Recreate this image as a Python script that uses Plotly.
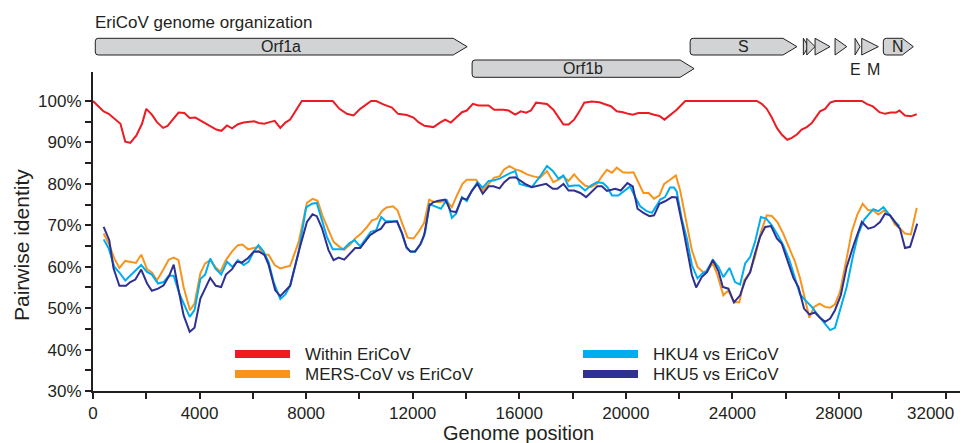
import plotly.graph_objects as go

# ---------------- data ----------------
within_x = [0, 400, 590, 1030, 1210, 1400, 1630, 1840, 2000, 2210,
            2400, 2630, 2800, 3030, 3210, 3430, 3630, 3840, 4030, 4250,
            4430, 4630, 4820, 5030, 5220, 5440, 5650, 5900, 6050, 6220,
            6430, 6630, 6820, 7030, 7220, 7400, 7620, 7840, 8400, 9000,
            9250, 9530, 9780, 10030, 10440, 10630, 10900, 11220, 11450, 11780,
            12030, 12220, 12440, 12780, 13010, 13220, 13430, 13660, 13850, 14030,
            14260, 14470, 14850, 15060, 15410, 15600, 15850, 16060, 16260, 16440,
            16630, 17040, 17280, 17470, 17660, 17850, 18060, 18260, 18440, 18720,
            19010, 19220, 19440, 19660, 19890, 20100, 20260, 20470, 20850, 21060,
            21260, 21450, 21660, 21910, 22230, 24040, 24920, 25100, 25290, 25480,
            25670, 25850, 26060, 26230, 26420, 26600, 26790, 26980, 27140, 27290,
            27480, 27670, 27850, 28860, 29040, 29270, 29520, 29730, 29940, 30140,
            30270, 30480, 30700, 30920]
within_y = [100, 97.5, 96.9, 94.5, 90.2, 89.9, 91.7, 94.5, 98.1, 96.7,
            94.9, 93.5, 94.0, 95.9, 97.2, 97.1, 95.9, 96.0, 95.3, 94.5,
            94.0, 93.1, 92.8, 94.1, 93.4, 94.4, 94.8, 95.1, 95.1, 94.7,
            94.5, 94.9, 95.2, 93.5, 94.8, 95.5, 97.7, 100, 100, 100,
            98.1, 96.9, 96.5, 98.1, 100, 100, 99.2, 98.4, 96.9, 96.6,
            96.0, 94.9, 94.0, 93.7, 94.7, 95.5, 94.8, 96.1, 97.3, 97.7,
            99.3, 98.9, 98.9, 97.9, 97.9, 97.7, 96.7, 97.5, 97.2, 97.7,
            99.6, 99.3, 97.9, 96.1, 94.3, 94.3, 95.5, 97.5, 99.6, 99.9,
            99.7, 99.2, 98.75, 97.5, 97.3, 96.9, 96.7, 97.1, 97.1, 96.7,
            96.4, 95.5, 96.5, 97.9, 100, 100, 100, 99.3, 98.1, 96.0,
            93.5, 91.9, 90.65, 91.1, 91.9, 93.1, 93.7, 94.65, 96.1, 97.5,
            98.1, 99.6, 100, 100, 99.3, 98.7, 97.3, 96.9, 97.2, 97.2,
            97.7, 96.5, 96.3, 96.8]

mers_x = [400, 590, 800, 990, 1210, 1400, 1610, 1810, 2030, 2210,
          2400, 2630, 2840, 3030, 3210, 3400, 3640, 3810, 4030, 4210,
          4400, 4590, 4780, 4990, 5220, 5440, 5610, 5820, 6030, 6210,
          6400, 6590, 6820, 7030, 7220, 7400, 7720, 8030, 8240, 8430,
          8630, 8840, 9030, 9250, 9430, 9650, 9840, 10060, 10260, 10470,
          10660, 10840, 11020, 11260, 11430, 11620, 11810, 12030, 12220, 12430,
          12620, 12810, 13030, 13260, 13470, 13660, 13870, 14030, 14380, 14630,
          14850, 15060, 15260, 15430, 15630, 15850, 16060, 16290, 16530, 16780,
          17040, 17280, 17470, 17660, 17850, 18060, 18260, 18470, 18690, 18910,
          19100, 19290, 19480, 19660, 19890, 20100, 20290, 20470, 20660, 20850,
          21060, 21260, 21440, 21660, 21880, 22040, 22230, 22480, 22690, 22890,
          23040, 23270, 23440, 23660, 23850, 24060, 24260, 24440, 24640, 24850,
          25070, 25290, 25480, 25690, 25910, 26140, 26350, 26540, 26730, 26890,
          27070, 27270, 27480, 27670, 27850, 28040, 28290, 28480, 28690, 28890,
          29100, 29290, 29480, 29700, 29920, 30100, 30290, 30480, 30700, 30920]
mers_y = [68.0, 65.6, 62.0, 59.7, 61.4, 61.2, 60.9, 62.9, 59.4, 58.6,
          56.7, 59.2, 61.7, 62.2, 61.6, 55.1, 49.5, 51.1, 58.4, 60.8,
          61.6, 59.95, 58.75, 61.6, 63.7, 65.2, 65.35, 64.2, 64.5, 64.8,
          62.9, 62.9, 60.4, 59.6, 59.95, 60.2, 66.0, 75.4, 76.4, 75.9,
          72.0, 68.8, 66.0, 64.8, 64.1, 65.35, 66.8, 68.0, 69.4, 71.2,
          71.6, 73.4, 74.3, 74.6, 73.6, 70.2, 67.0, 66.8, 68.4, 70.6,
          76.2, 75.6, 75.6, 75.9, 74.4, 77.2, 80.0, 81.0, 81.0, 78.4,
          80.0, 81.5, 81.8, 83.5, 84.3, 83.5, 83.1, 82.3, 81.8, 81.5,
          83.1, 80.4, 81.0, 81.8, 80.7, 82.3, 80.8, 79.6, 79.2, 80.0,
          81.8, 83.4, 82.7, 83.9, 82.8, 82.7, 82.8, 80.4, 77.8, 77.8,
          76.4, 77.2, 80.0, 81.0, 82.05, 78.4, 72.4, 64.0, 59.95, 58.75,
          58.9, 60.8, 58.0, 53.1, 54.3, 51.4, 51.4, 56.7, 58.4, 62.4,
          68.4, 72.4, 72.25, 70.8, 68.0, 64.4, 61.2, 57.2, 52.3, 47.7,
          50.3, 51.1, 50.3, 50.1, 50.9, 53.9, 62.0, 68.4, 72.6, 75.2,
          73.6, 73.6, 72.6, 73.6, 72.4, 70.2, 69.2, 68.0, 67.8, 74.2]

hku4_x = [400, 590, 800, 990, 1210, 1400, 1610, 1810, 2030, 2210,
          2440, 2650, 2840, 3030, 3240, 3630, 3810, 4030, 4210, 4400,
          4590, 4810, 5030, 5240, 5440, 5650, 5840, 6030, 6210, 6400,
          6590, 6780, 7030, 7220, 7400, 7720, 8000, 8220, 8400, 8590,
          8780, 9000, 9220, 9400, 9630, 9820, 10030, 10260, 10430, 10630,
          10820, 10990, 11410, 11600, 11780, 11930, 12090, 12310, 12470, 12630,
          12840, 13060, 13280, 13470, 13630, 13850, 14030, 14220, 14430, 14630,
          14850, 15030, 15260, 15470, 15660, 15850, 16010, 16220, 16470, 16760,
          17040, 17260, 17470, 17660, 17850, 18060, 18250, 18470, 18690, 18910,
          19140, 19310, 19480, 19720, 19940, 20160, 20350, 20540, 20790, 20980,
          21160, 21290, 21470, 21660, 21810, 21910, 22100, 22290, 22480, 22690,
          22880, 23010, 23270, 23480, 23660, 23890, 24100, 24290, 24480, 24670,
          24850, 25070, 25270, 25480, 25690, 25910, 26140, 26350, 26540, 26770,
          26980, 27190, 27390, 27670, 27850, 28040, 28290, 28520, 28720, 28950,
          29100, 29290, 29480, 29670, 29890, 30100, 30270]
hku4_y = [66.6, 64.4, 60.0, 58.6, 56.7, 57.95, 59.2, 60.4, 58.75, 58.1,
          55.95, 56.3, 57.8, 57.8, 53.5, 47.9, 49.5, 57.0, 58.1, 62.0,
          59.6, 58.1, 61.2, 59.95, 61.6, 60.4, 61.2, 63.6, 65.2, 63.7,
          61.2, 56.3, 52.2, 53.3, 55.4, 63.6, 74.3, 75.2, 75.4, 71.6,
          67.2, 64.2, 64.2, 64.2, 65.7, 66.4, 64.9, 66.8, 68.4, 68.8,
          72.0, 71.0, 71.0, 68.0, 64.4, 63.6, 63.6, 65.6, 68.4, 75.1,
          74.6, 74.0, 76.2, 71.8, 72.8, 76.8, 75.8, 78.3, 80.4, 79.1,
          80.7, 80.8, 81.25, 82.0, 82.6, 83.1, 80.0, 79.6, 79.2, 81.6,
          84.3, 83.1, 81.25, 82.05, 79.4, 79.6, 79.6, 78.4, 79.6, 80.4,
          80.2, 79.2, 77.2, 77.2, 78.4, 79.4, 76.8, 74.6, 73.4, 73.0,
          74.8, 76.2, 76.8, 79.1, 79.1, 78.2, 71.6, 66.8, 60.4, 57.2,
          58.4, 58.8, 61.6, 59.95, 57.5, 59.7, 56.3, 55.7, 60.8, 62.4,
          66.0, 72.0, 71.6, 70.0, 67.8, 65.2, 61.6, 57.5, 53.3, 51.7,
          50.3, 48.5, 46.9, 44.7, 45.25, 49.5, 55.1, 62.4, 67.8, 71.4,
          72.4, 73.9, 73.4, 74.4, 72.6, 70.8, 69.8]

hku5_x = [400, 610, 770, 990, 1240, 1400, 1590, 1810, 2030, 2210,
          2440, 2650, 2860, 3030, 3190, 3400, 3630, 3810, 4030, 4210,
          4400, 4610, 4810, 4990, 5220, 5400, 5590, 5820, 6030, 6210,
          6430, 6590, 6840, 7030, 7220, 7400, 7720, 8030, 8240, 8400,
          8590, 8840, 9030, 9220, 9430, 9630, 9840, 10030, 10220, 10400,
          10630, 10810, 10970, 11160, 11410, 11600, 11760, 11910, 12090, 12280,
          12430, 12630, 12780, 12970, 13220, 13430, 13630, 13850, 14030, 14220,
          14430, 14630, 14850, 15030, 15260, 15440, 15640, 15850, 16030, 16220,
          16470, 16720, 17010, 17260, 17430, 17660, 17850, 18060, 18290, 18510,
          18720, 18930, 19100, 19290, 19600, 19810, 20060, 20260, 20440, 20660,
          20890, 21060, 21260, 21470, 21730, 21910, 22140, 22310, 22480, 22640,
          22850, 23050, 23265, 23480, 23640, 23850, 24060, 24290, 24480, 24670,
          24850, 25040, 25230, 25450, 25670, 25850, 26060, 26290, 26480, 26690,
          26890, 27100, 27290, 27480, 27670, 27850, 28070, 28290, 28570, 28860,
          29100, 29320, 29540, 29730, 29920, 30100, 30290, 30480, 30670, 30940]
hku5_y = [69.6, 66.4, 59.6, 55.4, 55.4, 56.3, 56.9, 59.3, 55.95, 54.2,
          54.7, 55.5, 57.8, 60.5, 55.1, 48.3, 44.3, 45.25, 52.3, 54.6,
          57.3, 55.4, 55.1, 58.1, 59.4, 61.2, 61.0, 62.1, 63.6, 63.7,
          62.9, 60.5, 54.3, 52.9, 54.1, 55.4, 63.6, 70.8, 72.65, 72.2,
          69.4, 64.0, 61.6, 62.2, 61.7, 63.2, 64.5, 64.5, 66.0, 67.6,
          68.6, 69.2, 70.65, 70.8, 70.96, 68.1, 64.8, 63.7, 63.7, 65.35,
          67.6, 74.8, 75.6, 75.9, 76.2, 73.4, 73.2, 76.6, 76.2, 78.3,
          80.0, 77.6, 79.4, 79.4, 78.9, 80.4, 81.5, 81.6, 80.8, 80.0,
          79.2, 79.6, 80.0, 78.8, 78.8, 80.0, 78.4, 78.4, 77.8, 76.8,
          78.0, 79.4, 79.4, 78.3, 78.8, 78.4, 80.2, 79.4, 74.0, 73.0,
          72.2, 72.4, 75.2, 75.8, 76.8, 76.7, 69.6, 64.0, 58.0, 55.0,
          57.5, 58.7, 61.65, 58.9, 55.1, 54.7, 51.4, 53.1, 56.7, 58.7,
          63.2, 67.2, 69.6, 69.8, 66.8, 65.6, 61.6, 57.3, 55.1, 49.9,
          48.5, 48.96, 47.7, 46.7, 47.5, 49.5, 53.1, 59.95, 65.6, 70.8,
          69.2, 69.6, 70.8, 72.8, 72.4, 70.8, 69.2, 64.5, 64.8, 70.4]

series_names = ["Within EriCoV", "MERS-CoV vs EriCoV", "HKU4 vs EriCoV", "HKU5 vs EriCoV"]

# genome organization (genome coordinates)
gene_names = ["Orf1a", "Orf1b", "S", "N"]
gene_start = [86, 14230, 22415, 29666]
gene_end = [14045, 22563, 26425, 30792]
gene_row = [0, 1, 0, 0]
small_orf_start = [26664, 26791, 27103, 27854, 28605, 28855]
small_orf_end = [26852, 27103, 27666, 28293, 28793, 29479]
small_orf_labels = ["E", "M"]
small_orf_label_pos = [28604, 29280]

y_tick_vals = [30, 40, 50, 60, 70, 80, 90, 100]
x_tick_vals = [0, 4000, 8000, 12000, 16000, 20000, 24000, 28000, 32000]

# ---------------- styling ----------------
W, H = 970, 443
# plot area in screen pixels
P_L, P_R, P_T, P_B = 93, 960, 72, 391
ML, MR, MT, MB = P_L, W - P_R, P_T, H - P_B
PW, PH = P_R - P_L, P_B - P_T
XMAX = 32544
FONT = "Liberation Sans, Arial, Helvetica, sans-serif"
TXT = "#231f20"
colors = ["#ed1c24", "#f7941d", "#00aeef", "#2e3192"]


def px_x(px):
    return (px - P_L) / PW


def px_y(py):
    return (P_B - py) / PH


fig = go.Figure()
for name, xs, ys, c in zip(series_names,
                           [within_x, mers_x, hku4_x, hku5_x],
                           [within_y, mers_y, hku4_y, hku5_y], colors):
    fig.add_trace(go.Scatter(x=xs, y=ys, mode="lines", name=name,
                             line=dict(color=c, width=2), showlegend=False,
                             hoverinfo="skip"))

shapes = []
annotations = []

# genome arrows
row_top = [px_y(38.3), px_y(60)]
row_bot = [px_y(55), px_y(77.3)]
rx = 3 * XMAX / PW
ry = 3 / PH
tip = 14 * XMAX / PW
for name, s, e, r in zip(gene_names, gene_start, gene_end, gene_row):
    yt, yb = row_top[r], row_bot[r]
    ym = (yt + yb) / 2
    t = tip if name != "N" else 11 * XMAX / PW
    path = (f"M {s+rx},{yb} L {e-t},{yb} L {e},{ym} L {e-t},{yt} L {s+rx},{yt} "
            f"Q {s},{yt} {s},{yt-ry} L {s},{yb+ry} Q {s},{yb} {s+rx},{yb} Z")
    shapes.append(dict(type="path", xref="x", yref="paper", path=path,
                       fillcolor="#d1d3d4", line=dict(color=TXT, width=1), layer="above"))
    annotations.append(dict(x=(s + e) / 2, y=ym, xref="x", yref="paper", text=name,
                            showarrow=False, font=dict(size=16, color=TXT, family=FONT),
                            xanchor="center", yanchor="middle"))
for s, e in zip(small_orf_start, small_orf_end):
    yt, yb = row_top[0], row_bot[0]
    ym = (yt + yb) / 2
    shapes.append(dict(type="path", xref="x", yref="paper",
                       path=f"M {s},{yb} L {e},{ym} L {s},{yt} Z",
                       fillcolor="#d1d3d4", line=dict(color=TXT, width=1), layer="above"))
for lab, xp in zip(small_orf_labels, small_orf_label_pos):
    annotations.append(dict(x=xp, y=px_y(70), xref="x", yref="paper", text=lab,
                            showarrow=False, font=dict(size=16, color=TXT, family=FONT),
                            xanchor="center", yanchor="middle"))

annotations.append(dict(x=px_x(93), y=px_y(22), xref="paper", yref="paper",
                        text="EriCoV genome organization", showarrow=False,
                        font=dict(size=17, color=TXT, family=FONT),
                        xanchor="left", yanchor="middle"))

# legend (manual)
leg_pos = [(235, 354), (235, 374), (583, 354), (583, 374)]
for (lx, ly), name, c in zip(leg_pos, series_names, colors):
    shapes.append(dict(type="rect", xref="paper", yref="paper",
                       x0=px_x(lx), x1=px_x(lx + 55), y0=px_y(ly + 4), y1=px_y(ly - 4),
                       fillcolor=c, line=dict(width=0)))
    annotations.append(dict(x=px_x(lx + 68), y=px_y(ly), xref="paper", yref="paper",
                            text=name, showarrow=False, xanchor="left", yanchor="middle",
                            font=dict(size=17, color=TXT, family=FONT)))

# axis titles
annotations.append(dict(x=px_x(518), y=px_y(433), xref="paper", yref="paper",
                        text="Genome position", showarrow=False,
                        font=dict(size=20, color=TXT, family=FONT),
                        xanchor="center", yanchor="middle"))
annotations.append(dict(x=px_x(21), y=px_y(245), xref="paper", yref="paper",
                        text="Pairwise identity", showarrow=False, textangle=-90,
                        font=dict(size=21, color=TXT, family=FONT),
                        xanchor="center", yanchor="middle"))

# the last x tick label sits at the window edge: draw it right-aligned so it stays whole
x_tick_text = [str(v) for v in x_tick_vals[:-1]] + [""]
annotations.append(dict(x=1.0, xshift=-4, y=0, yshift=-11, xref="paper", yref="paper",
                        text=str(x_tick_vals[-1]), showarrow=False,
                        xanchor="right", yanchor="top",
                        font=dict(size=17, color=TXT, family=FONT)))

fig.update_layout(
    width=W, height=H,
    margin=dict(l=ML, r=MR, t=MT, b=MB, autoexpand=False),
    plot_bgcolor="white", paper_bgcolor="white",
    font=dict(family=FONT, color=TXT, size=17),
    shapes=shapes, annotations=annotations,
    showlegend=False,
    xaxis=dict(range=[0, XMAX], showgrid=False, zeroline=False,
               showline=True, linecolor=TXT, linewidth=2,
               tickmode="array", tickvals=x_tick_vals,
               ticktext=x_tick_text,
               ticks="outside", ticklen=6, tickwidth=1.5, tickcolor=TXT,
               tickfont=dict(size=17, color=TXT, family=FONT),
               minor=dict(tickvals=[2000 + 4000 * i for i in range(8)],
                          ticks="outside", ticklen=6, tickwidth=1.5, tickcolor=TXT)),
    yaxis=dict(range=[30, 107], showgrid=False, zeroline=False,
               showline=True, linecolor=TXT, linewidth=2,
               tickmode="array", tickvals=y_tick_vals,
               ticktext=[f"{v}%" for v in y_tick_vals],
               ticks="outside", ticklen=6, tickwidth=1.5, tickcolor=TXT,
               tickfont=dict(size=17, color=TXT, family=FONT),
               minor=dict(tickvals=[35 + 10 * i for i in range(7)],
                          ticks="outside", ticklen=6, tickwidth=1.5, tickcolor=TXT)),
)

# remove the default page margin so the figure sits at the window's top-left corner
fig.write_html("out.html",
               config={"displayModeBar": False},
               post_script="document.body.style.margin='0';document.body.style.overflow='hidden';")
